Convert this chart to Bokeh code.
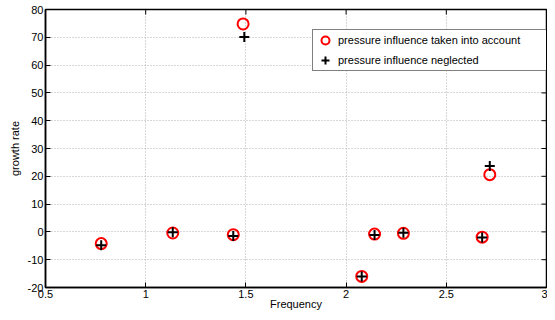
import math
from bokeh.plotting import figure
from bokeh.models import Range1d, FixedTicker, Legend, LegendItem
from bokeh.embed import file_html
from bokeh.resources import INLINE

# data
freq_with = [0.778, 1.135, 1.437, 1.486, 2.078, 2.142, 2.286, 2.679, 2.717]
growth_with = [-4.2, -0.4, -1.0, 74.8, -16.0, -0.8, -0.5, -1.9, 20.6]
freq_without = [0.778, 1.135, 1.437, 1.492, 2.078, 2.142, 2.286, 2.679, 2.717]
growth_without = [-4.8, -0.1, -1.5, 70.1, -16.0, -1.1, -0.3, -2.0, 23.7]

x_ticks = [0.5, 1.0, 1.5, 2.0, 2.5, 3.0]
x_tick_labels = ["0.5", "1", "1.5", "2", "2.5", "3"]
y_ticks = [-20, -10, 0, 10, 20, 30, 40, 50, 60, 70, 80]
y_tick_labels = ["-20", "-10", "0", "10", "20", "30", "40", "50", "60", "70", "80"]

series_labels = ["pressure influence taken into account", "pressure influence neglected"]

FONT = "Liberation Sans"
X_MIN, X_MAX = x_ticks[0], x_ticks[-1]
Y_MIN, Y_MAX = y_ticks[0], y_ticks[-1]

p = figure(width=547, height=312, output_backend="svg", toolbar_location=None,
           x_range=Range1d(X_MIN, X_MAX), y_range=Range1d(Y_MIN, Y_MAX),
           min_border_left=45, min_border_right=1, min_border_top=9, min_border_bottom=25,
           background_fill_color="white", border_fill_color="white")
p.outline_line_color = "black"
p.outline_line_width = 1.5

for ax in (p.xaxis[0], p.yaxis[0]):
    ax.axis_line_width = 1.5
    ax.major_tick_in = 5
    ax.major_tick_out = 0
    ax.minor_tick_in = 0
    ax.minor_tick_out = 0
    ax.major_tick_line_width = 1
    ax.major_label_text_font = FONT
    ax.major_label_text_font_size = "11px"
    ax.major_label_text_color = "black"
    ax.axis_label_text_font = FONT
    ax.axis_label_text_font_size = "11px"
    ax.axis_label_text_font_style = "normal"
    ax.axis_label_text_color = "black"

p.xaxis[0].ticker = FixedTicker(ticks=x_ticks)
p.xaxis[0].major_label_overrides = {t: l for t, l in zip(x_ticks, x_tick_labels)}
p.yaxis[0].ticker = FixedTicker(ticks=y_ticks)
p.yaxis[0].major_label_overrides = {t: l for t, l in zip(y_ticks, y_tick_labels)}
p.xaxis[0].major_label_standoff = 2
p.yaxis[0].major_label_standoff = 2
p.xaxis[0].axis_label = "Frequency"
p.yaxis[0].axis_label = "growth rate"
p.xaxis[0].axis_label_standoff = -3
p.yaxis[0].axis_label_standoff = 4

p.xgrid.ticker = FixedTicker(ticks=x_ticks)
p.ygrid.ticker = FixedTicker(ticks=y_ticks)
for g in (p.xgrid[0], p.ygrid[0]):
    g.grid_line_color = "#b0b0b0"
    g.grid_line_dash = "1 2"
    g.grid_line_width = 1

# inward ticks on the top and right edges of the box (half of each dash is clipped by the frame)
p.scatter(x_ticks, [Y_MAX] * len(x_ticks), marker="dash", angle=math.pi / 2, size=10,
          line_color="black", line_width=1)
p.scatter([X_MAX] * len(y_ticks), y_ticks, marker="dash", size=10,
          line_color="black", line_width=1)

r1 = p.scatter(freq_with, growth_with, marker="circle", size=11, fill_color=None,
               line_color="red", line_width=2)
r2 = p.scatter(freq_without, growth_without, marker="cross", size=10,
               line_color="black", line_width=2)

legend = Legend(items=[LegendItem(label=series_labels[0], renderers=[r1]),
                       LegendItem(label=series_labels[1], renderers=[r2])],
                location=(267, 216), orientation="vertical")
legend.label_text_font = FONT
legend.label_text_font_size = "11px"
legend.label_text_color = "black"
legend.border_line_color = "black"
legend.border_line_width = 1
legend.background_fill_color = "white"
legend.background_fill_alpha = 1.0
legend.padding = 0
legend.margin = 0
legend.spacing = -1
legend.glyph_width = 24
legend.glyph_height = 20
legend.label_height = 19
legend.label_standoff = 1
legend.label_width = 209
p.add_layout(legend, "center")

open("out.html", "w").write(file_html(p, INLINE))
